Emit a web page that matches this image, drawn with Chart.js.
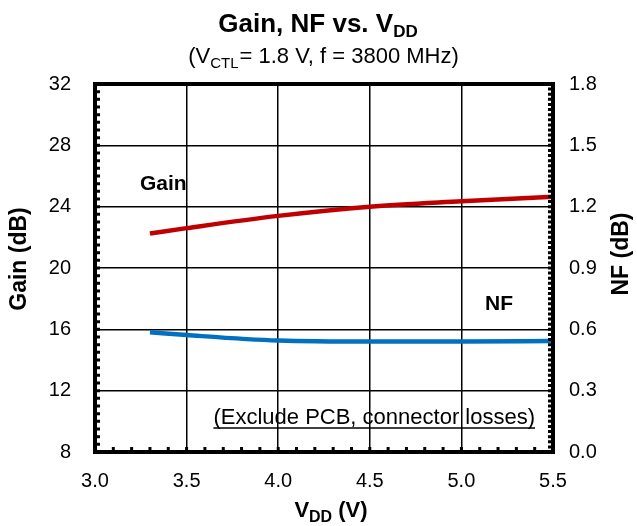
<!DOCTYPE html>
<html>
<head>
<meta charset="utf-8">
<script src="https://cdn.jsdelivr.net/npm/chart.js@4.4.0/dist/chart.umd.min.js"></script>
<style>
  html, body { margin: 0; padding: 0; background: #fff; }
  #wrap { width: 637px; height: 526px; }
</style>
</head>
<body>
<div id="wrap"><canvas id="chart" width="637" height="526"></canvas></div>
<script>
// data
const vdd = [3.3, 3.5, 4.0, 4.5, 5.0, 5.5];
const gain = [22.25, 22.6, 23.4, 24.0, 24.35, 24.65];
const nf = [0.586, 0.572, 0.545, 0.540, 0.540, 0.543];
const xTicks = [3.0, 3.5, 4.0, 4.5, 5.0, 5.5];
const gainTicks = [8, 12, 16, 20, 24, 28, 32];
const nfTicks = [0.0, 0.3, 0.6, 0.9, 1.2, 1.5, 1.8];

const FONT = "'Liberation Sans', Arial, sans-serif";

// title, axis titles, notes, border and minor ticks
const decor = {
  id: 'decor',
  afterDraw(chart) {
    const ctx = chart.ctx;
    const a = chart.chartArea;
    const sx = chart.scales.x, sy = chart.scales.y, sy2 = chart.scales.y2;
    ctx.save();
    ctx.fillStyle = '#000';
    ctx.strokeStyle = '#000';

    // main title with subscript
    ctx.textBaseline = 'alphabetic';
    ctx.textAlign = 'left';
    let f1 = 'bold 26px ' + FONT, f2 = 'bold 17px ' + FONT;
    ctx.font = f1; let w1 = ctx.measureText('Gain, NF vs. V').width;
    ctx.font = f2; let w2 = ctx.measureText('DD').width;
    let x0 = 318 - (w1 + w2) / 2;
    ctx.font = f1; ctx.fillText('Gain, NF vs. V', x0, 32);
    ctx.font = f2; ctx.fillText('DD', x0 + w1, 37);

    // subtitle
    f1 = '22px ' + FONT; f2 = '15px ' + FONT;
    ctx.font = f1; let p1 = ctx.measureText('(V').width;
    ctx.font = f2; let p2 = ctx.measureText('CTL').width;
    ctx.font = f1; let p3 = ctx.measureText('= 1.8 V, f = 3800 MHz)').width;
    x0 = 323 - (p1 + p2 + p3) / 2;
    ctx.font = f1; ctx.fillText('(V', x0, 63);
    ctx.font = f2; ctx.fillText('CTL', x0 + p1, 68);
    ctx.font = f1; ctx.fillText('= 1.8 V, f = 3800 MHz)', x0 + p1 + p2 + 1, 63);

    // x axis title
    f1 = 'bold 22px ' + FONT; f2 = 'bold 16px ' + FONT;
    ctx.font = f1; let v1 = ctx.measureText('V').width, v3 = ctx.measureText(' (V)').width;
    ctx.font = f2; let v2 = ctx.measureText('DD').width;
    x0 = 331 - (v1 + v2 + v3) / 2;
    ctx.font = f1; ctx.fillText('V', x0, 517);
    ctx.font = f2; ctx.fillText('DD', x0 + v1, 522);
    ctx.font = f1; ctx.fillText(' (V)', x0 + v1 + v2, 517);

    // y axis titles
    ctx.font = 'bold 23px ' + FONT;
    ctx.textAlign = 'center';
    ctx.textBaseline = 'middle';
    ctx.save(); ctx.translate(20, 259); ctx.rotate(-Math.PI / 2);
    ctx.fillText('Gain (dB)', 0, 0); ctx.restore();
    ctx.save(); ctx.translate(622, 254); ctx.rotate(-Math.PI / 2);
    ctx.fillText('NF (dB)', 0, 0); ctx.restore();

    // series labels
    ctx.font = 'bold 21px ' + FONT;
    ctx.textAlign = 'left';
    ctx.textBaseline = 'alphabetic';
    ctx.fillText('Gain', 140, 190);
    ctx.fillText('NF', 485, 310);

    // note, underlined
    ctx.font = '22px ' + FONT;
    ctx.textAlign = 'right';
    const note = '(Exclude PCB, connector losses)';
    const nw = ctx.measureText(note).width;
    ctx.fillText(note, 535, 424);
    ctx.lineWidth = 1.5;
    ctx.beginPath(); ctx.moveTo(535 - nw, 428); ctx.lineTo(535, 428); ctx.stroke();

    // minor ticks
    ctx.lineWidth = 3;
    ctx.beginPath();
    for (let v = 8; v <= 32; v += 0.5) {
      const y = sy.getPixelForValue(v);
      ctx.moveTo(a.left, y); ctx.lineTo(a.left + 5, y);
    }
    for (let i = 0; i <= 72; i++) {
      const y = sy2.getPixelForValue(i * 0.025);
      ctx.moveTo(a.right, y); ctx.lineTo(a.right - 5, y);
    }
    for (let i = 0; i <= 25; i++) {
      const x = sx.getPixelForValue(3 + i * 0.1);
      ctx.moveTo(x, a.bottom); ctx.lineTo(x, a.bottom - 5);
    }
    ctx.stroke();

    // heavy border
    ctx.lineWidth = 4;
    ctx.strokeRect(a.left, a.top, a.right - a.left, a.bottom - a.top);
    ctx.restore();
  }
};

new Chart(document.getElementById('chart'), {
  type: 'line',
  data: {
    datasets: [
      {
        label: 'Gain',
        data: vdd.map((v, i) => ({ x: v, y: gain[i] })),
        borderColor: '#C00000',
        borderWidth: 4.5,
        yAxisID: 'y',
        pointRadius: 0,
        cubicInterpolationMode: 'monotone'
      },
      {
        label: 'NF',
        data: vdd.map((v, i) => ({ x: v, y: nf[i] })),
        borderColor: '#0070C0',
        borderWidth: 4.5,
        yAxisID: 'y2',
        pointRadius: 0,
        cubicInterpolationMode: 'monotone'
      }
    ]
  },
  options: {
    responsive: false,
    animation: false,
    layout: { padding: { top: 84, left: 0, right: 0, bottom: 0 } },
    plugins: { legend: { display: false }, tooltip: { enabled: false } },
    scales: {
      x: {
        type: 'linear',
        min: 3.0, max: 5.5,
        afterBuildTicks: s => { s.ticks = xTicks.map(v => ({ value: v })); },
        afterFit: s => { s.height = 74; },
        grid: { color: '#000', lineWidth: 1.5, drawTicks: false },
        border: { display: false },
        ticks: {
          padding: 17,
          color: '#000',
          font: { family: FONT, size: 20 },
          callback: v => v.toFixed(1)
        }
      },
      y: {
        position: 'left',
        min: 8, max: 32,
        afterBuildTicks: s => { s.ticks = gainTicks.map(v => ({ value: v })); },
        afterFit: s => { s.width = 95; },
        grid: { color: '#000', lineWidth: 1.5, drawTicks: false },
        border: { display: false },
        ticks: {
          padding: 24,
          color: '#000',
          font: { family: FONT, size: 20 }
        }
      },
      y2: {
        position: 'right',
        min: 0, max: 1.8,
        afterBuildTicks: s => { s.ticks = nfTicks.map(v => ({ value: v })); },
        afterFit: s => { s.width = 84; },
        grid: { display: false, drawTicks: false },
        border: { display: false },
        ticks: {
          padding: 16,
          color: '#000',
          font: { family: FONT, size: 20 },
          callback: v => v.toFixed(1)
        }
      }
    }
  },
  plugins: [decor]
});
</script>
</body>
</html>
